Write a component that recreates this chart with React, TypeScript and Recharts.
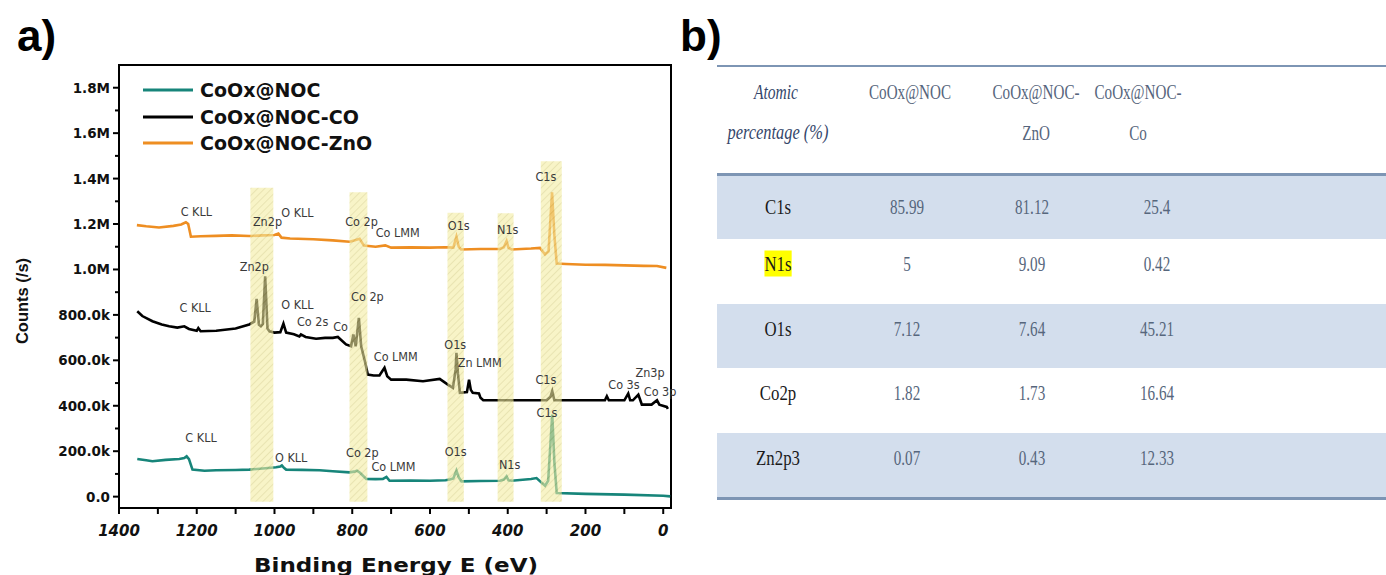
import { LineChart, Line, XAxis, YAxis, ReferenceArea, ReferenceDot, Legend, Label } from "recharts";

// XPS survey spectra, binding energy (eV) vs counts (thousands of counts/s)
const nocEnergy = [1353, 1330, 1314, 1280, 1245, 1232, 1226, 1220, 1211, 1180, 1150, 1100, 1065, 1030, 996, 985, 981, 975, 970, 930, 884, 850, 807, 795, 788, 780, 764, 740, 721, 712, 704, 650, 600, 560, 549, 540, 532, 526, 519, 470, 420, 410, 403, 398, 390, 340, 326, 304, 296, 285.5, 280, 274, 200, 100, 0, -18];
const nocCounts = [166, 160, 156, 162, 166, 170, 178, 165, 119, 114, 116, 117, 119, 124, 129, 133, 137, 126, 119, 118, 116, 112, 107, 110, 114, 105, 78, 77, 78, 87, 70, 71, 70, 72, 75, 80, 115, 85, 67, 69, 70, 75, 89, 72, 70, 78, 82, 48, 70, 361, 150, 16, 12, 9, 4, 1];

const coEnergy = [1353, 1340, 1314, 1290, 1271, 1250, 1232, 1220, 1200, 1196, 1190, 1150, 1100, 1065, 1052, 1046, 1040, 1035, 1030, 1024, 1018, 1013, 1000, 985, 977, 970, 950, 936, 932, 920, 893, 870, 850, 837, 816, 803, 797, 791, 783, 777, 768, 760, 745, 730, 717, 710, 700, 661, 618, 575, 554, 541, 534, 532, 528, 523, 505, 499.5, 495, 490, 474, 470, 463, 400, 300, 290, 285.5, 280, 200, 150, 145, 140, 100, 90, 85, 78, 64, 58, 55, 30, 16, 10, -9, -12];
const coCounts = [816, 795, 772, 758, 750, 744, 750, 738, 730, 742, 728, 730, 740, 758, 770, 871, 756, 750, 760, 970, 740, 728, 722, 724, 762, 722, 715, 705, 714, 703, 695, 699, 699, 703, 670, 662, 714, 662, 787, 662, 600, 537, 533, 533, 567, 530, 515, 515, 508, 518, 493, 479, 560, 633, 540, 457, 460, 515, 470, 457, 454, 435, 424, 424, 424, 440, 464, 424, 424, 424, 442, 424, 424, 454, 424, 424, 449, 420, 405, 405, 424, 405, 395, 386];

const znoEnergy = [1354, 1330, 1297, 1260, 1240, 1228, 1222, 1215, 1190, 1150, 1110, 1065, 1030, 1000, 990, 982, 960, 900, 850, 807, 795, 781, 770, 740, 715, 700, 650, 600, 560, 540, 532, 526, 520, 470, 420, 410, 403, 398, 390, 340, 317, 304, 295, 286, 280, 274, 250, 200, 150, 100, 50, 16, -8];
const znoCounts = [1195, 1190, 1185, 1192, 1198, 1208, 1200, 1144, 1146, 1148, 1150, 1147, 1150, 1152, 1158, 1140, 1136, 1133, 1128, 1122, 1128, 1135, 1105, 1100, 1106, 1096, 1097, 1096, 1098, 1096, 1144, 1100, 1088, 1090, 1090, 1098, 1125, 1095, 1088, 1092, 1095, 1066, 1080, 1340, 1150, 1026, 1024, 1021, 1020, 1018, 1016, 1015, 1007];

// highlighted core-level windows (eV) and their heights (k counts)
const bandHigh = [1062, 807, 555, 426, 315];
const bandLow = [1003, 761, 513, 385, 261];
const bandTop = [1360, 1340, 1250, 1247, 1476];

// peak annotations: text, energy, counts
const peakText = ["C KLL", "Zn2p", "O KLL", "Co 2p", "Co LMM", "O1s", "N1s", "C1s",
  "Zn2p", "C KLL", "O KLL", "Co 2s", "Co", "Co 2p", "Co LMM", "O1s", "Zn LMM", "C1s", "Co 3s", "Zn3p", "Co 3p",
  "C KLL", "O KLL", "Co 2p", "Co LMM", "O1s", "N1s", "C1s"];
const peakEnergy = [1201, 1018, 941, 776, 683, 526, 400, 302,
  1052, 1204, 941, 902, 830, 761, 688, 535, 472, 302, 101, 34, 8,
  1189, 957, 774, 694, 534, 395, 299];
const peakCounts = [1255, 1211, 1251, 1211, 1163, 1194, 1176, 1410,
  1013, 833, 846, 771, 749, 881, 617, 670, 590, 515, 493, 546, 463,
  260, 172, 194, 132, 198, 141, 370];

// atomic percentage table
const elements = ["C1s", "N1s", "O1s", "Co2p", "Zn2p3"];
const nocPercent = ["85.99", "5", "7.12", "1.82", "0.07"];
const znoPercent = ["81.12", "9.09", "7.64", "1.73", "0.43"];
const coPercent = ["25.4", "0.42", "45.21", "16.64", "12.33"];
const sampleHeaders = [["CoOx@NOC", ""], ["CoOx@NOC-", "ZnO"], ["CoOx@NOC-", "Co"]];

const toPoints = (e: number[], c: number[]) => e.map((v, i) => ({ e: v, c: c[i] }));
const nocData = toPoints(nocEnergy, nocCounts);
const coData = toPoints(coEnergy, coCounts);
const znoData = toPoints(znoEnergy, znoCounts);

const X_TICKS = Array.from({ length: 15 }, (_, i) => 1400 - i * 100);
const Y_TICKS = Array.from({ length: 19 }, (_, i) => i * 100);

const BOLD = "'DejaVu Sans', sans-serif";
const NARROW = "'Liberation Sans Narrow', 'Arial Narrow', 'DejaVu Sans Condensed', sans-serif";
const SERIF = "'Liberation Serif', 'Times New Roman', serif";

const fmtCounts = (v: number) => {
  if (v === 0) return "0.0";
  if (v >= 1000) return (v / 1000).toFixed(1) + "M";
  return v.toFixed(1) + "k";
};

function XTick({ x, y, payload }: any) {
  const v = payload.value as number;
  return (
    <g>
      <line x1={x} y1={y} x2={x} y2={y + 6} stroke="#000" strokeWidth={2} />
      {v % 200 === 0 && (
        <text x={x} y={y + 28} textAnchor="middle" fontFamily={BOLD} fontWeight="bold" fontStyle="italic" fontSize={15} fill="#111">
          {v}
        </text>
      )}
    </g>
  );
}

function YTick({ x, y, payload }: any) {
  const v = payload.value as number;
  const major = v % 200 === 0;
  return (
    <g>
      <line x1={x} y1={y} x2={x - (major ? 6 : 4)} y2={y} stroke="#000" strokeWidth={2} />
      {major && (
        <text x={x - 9} y={y + 5} textAnchor="end" fontFamily={BOLD} fontWeight="bold" fontSize={13.5} fill="#111">
          {fmtCounts(v)}
        </text>
      )}
    </g>
  );
}

function LegendBox({ payload }: any) {
  return (
    <div>
      {(payload ?? []).map((p: any) => (
        <div key={p.value} style={{ display: "flex", alignItems: "center", height: 26.5 }}>
          <svg width={52} height={6}>
            <line x1={0} y1={3} x2={50} y2={3} stroke={p.color} strokeWidth={3} />
          </svg>
          <span style={{ marginLeft: 5, fontFamily: BOLD, fontWeight: "bold", fontSize: 19, color: "#111" }}>{p.value}</span>
        </div>
      ))}
    </div>
  );
}

function Cell({ x, y, children, size = 20, scale = 0.75, style }: any) {
  return (
    <div
      style={{
        position: "absolute",
        left: x,
        top: y,
        transform: `translate(-50%, -50%) scaleX(${scale})`,
        whiteSpace: "nowrap",
        lineHeight: 1,
        fontFamily: SERIF,
        fontSize: size,
        ...style,
      }}
    >
      {children}
    </div>
  );
}

const ROW_TOP = 175;
const ROW_H = 64.4;
const VALUE_X = [907, 1032, 1157];
const HEADER_X = [910, 1036, 1138];

function AtomicTable() {
  const cols = [nocPercent, znoPercent, coPercent];
  return (
    <>
      <div style={{ position: "absolute", left: 717, top: 65, width: 669, height: 2, background: "#7d95b4" }} />
      <Cell x={776} y={92} size={21} scale={0.74} style={{ fontStyle: "italic", color: "#34466a" }}>Atomic</Cell>
      <Cell x={778} y={132} size={21} scale={0.78} style={{ fontStyle: "italic", color: "#34466a" }}>percentage (%)</Cell>
      {sampleHeaders.map((h, j) => (
        <div key={j}>
          <Cell x={HEADER_X[j]} y={92} size={21} scale={0.72} style={{ color: "#56657c" }}>{h[0]}</Cell>
          {h[1] && <Cell x={HEADER_X[j]} y={133} size={21} scale={0.72} style={{ color: "#56657c" }}>{h[1]}</Cell>}
        </div>
      ))}
      {elements.map((el, i) => {
        const top = ROW_TOP + i * ROW_H;
        const ty = top + (i === 0 ? 32 : 25);
        return (
          <div key={el}>
            {i % 2 === 0 && (
              <div style={{ position: "absolute", left: 717, top, width: 669, height: ROW_H, background: "#d3deed" }} />
            )}
            <Cell x={778} y={ty} size={21} scale={0.8} style={{ color: "#1a1a1a" }}>
              <span style={{ background: el === "N1s" ? "#ffff00" : "transparent", padding: "1px 0" }}>{el}</span>
            </Cell>
            {cols.map((c, j) => (
              <Cell key={j} x={VALUE_X[j]} y={ty} size={21} scale={0.72} style={{ color: "#56667c" }}>{c[i]}</Cell>
            ))}
          </div>
        );
      })}
      <div style={{ position: "absolute", left: 717, top: 173, width: 669, height: 3, background: "#7d95b4" }} />
      <div style={{ position: "absolute", left: 717, top: 497, width: 669, height: 3, background: "#7d95b4" }} />
    </>
  );
}

export default function App() {
  return (
    <div style={{ position: "absolute", left: 0, top: 0, width: 1386, height: 575, background: "#fff", overflow: "hidden" }}>
      <svg width={1386} height={80} style={{ position: "absolute", left: 0, top: 0 }}>
        <text x={17} y={51} fontFamily="'Liberation Sans', Arial, sans-serif" fontWeight="bold" fontSize={44} fill="#000">a)</text>
        <text x={680} y={51} fontFamily="'Liberation Sans', Arial, sans-serif" fontWeight="bold" fontSize={44} fill="#000">b)</text>
      </svg>

      <div style={{ position: "absolute", left: 0, top: 0 }}>
        <LineChart width={700} height={575} margin={{ top: 65, right: 29, bottom: 7, left: 59 }}>
          <defs>
            <pattern id="hatch" patternUnits="userSpaceOnUse" width="5" height="5" patternTransform="rotate(45)">
              <rect width="5" height="5" fill="#f3eda2" />
              <line x1="0" y1="0" x2="0" y2="5" stroke="#cdc26a" strokeWidth="1.3" />
            </pattern>
          </defs>
          <XAxis
            dataKey="e"
            type="number"
            domain={[-20, 1400]}
            reversed
            allowDataOverflow
            ticks={X_TICKS}
            interval={0}
            tick={<XTick />}
            tickSize={0}
            tickMargin={0}
            tickLine={false}
            axisLine={false}
            height={60}
          >
            <Label
              content={() => (
                <text
                  x={254}
                  y={572}
                  textLength={284}
                  lengthAdjust="spacingAndGlyphs"
                  fontFamily={BOLD}
                  fontWeight="bold"
                  fontSize={19}
                  fill="#111"
                >
                  Binding Energy  E (eV)
                </text>
              )}
            />
          </XAxis>
          <YAxis
            type="number"
            domain={[-50, 1900]}
            allowDataOverflow
            ticks={Y_TICKS}
            interval={0}
            tick={<YTick />}
            tickSize={0}
            tickMargin={0}
            tickLine={false}
            axisLine={false}
            width={60}
          >
            <Label
              content={() => (
                <text
                  x={0}
                  y={0}
                  transform="translate(28 301) rotate(-90)"
                  textAnchor="middle"
                  fontFamily="'Liberation Sans', Arial, sans-serif"
                  fontWeight="bold"
                  fontSize={16.5}
                  fill="#111"
                >
                  Counts (/s)
                </text>
              )}
            />
          </YAxis>
          <Legend
            layout="vertical"
            align="center"
            verticalAlign="middle"
            wrapperStyle={{ left: 143, top: 77, width: 320 }}
            content={<LegendBox />}
          />
          <Line data={nocData} dataKey="c" name="CoOx@NOC" stroke="#17857a" strokeWidth={2.6} dot={false} isAnimationActive={false} />
          <Line data={coData} dataKey="c" name="CoOx@NOC-CO" stroke="#000000" strokeWidth={2.6} dot={false} isAnimationActive={false} />
          <Line data={znoData} dataKey="c" name="CoOx@NOC-ZnO" stroke="#ee8e22" strokeWidth={2.6} dot={false} isAnimationActive={false} />
          {bandHigh.map((hi, i) => (
            <ReferenceArea
              key={hi}
              x1={hi}
              x2={bandLow[i]}
              y1={-22}
              y2={bandTop[i]}
              fill="url(#hatch)"
              fillOpacity={0.6}
              stroke="none"
              ifOverflow="visible"
              zIndex={600}
            />
          ))}
          {peakText.map((t, i) => (
            <ReferenceDot
              key={i}
              x={peakEnergy[i]}
              y={peakCounts[i]}
              r={0}
              fill="none"
              stroke="none"
              ifOverflow="visible"
              label={{ value: t, position: "center", fontSize: 12.5, fontFamily: NARROW, fill: "#3a3a3a" }}
            />
          ))}
          <ReferenceArea x1={1400} x2={-20} y1={-50} y2={1900} fill="none" stroke="#000" strokeWidth={2} ifOverflow="visible" />
        </LineChart>
      </div>

      <AtomicTable />
    </div>
  );
}
